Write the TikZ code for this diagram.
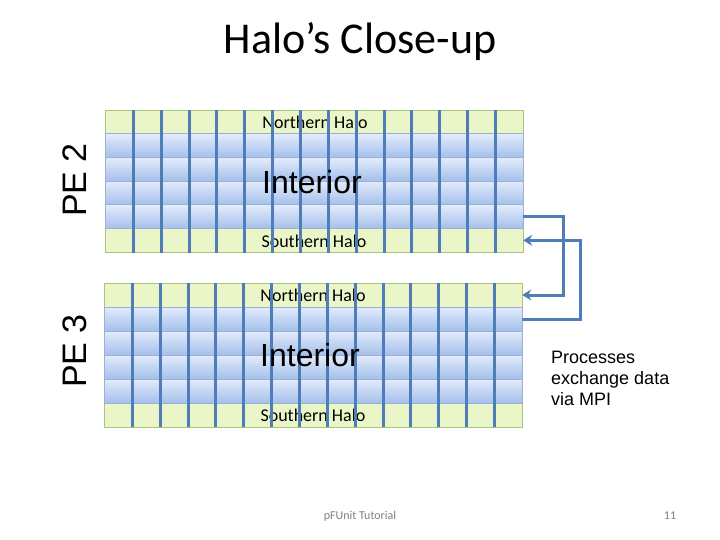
\documentclass[tikz,border=0pt]{standalone}
\usepackage{fontspec}
\setmainfont{Carlito}
\newfontfamily\arialfont{Liberation Sans}
\usetikzlibrary{arrows.meta}

\definecolor{halofill}{HTML}{EBF6C8}
\definecolor{haloedge}{HTML}{A9C47E}
\definecolor{inttop}{HTML}{E3ECFB}
\definecolor{intbot}{HTML}{A4BFEC}
\definecolor{intedge}{HTML}{9DB0D2}
\definecolor{mpiblue}{HTML}{4F7DB8}

\begin{document}
\begin{tikzpicture}[x=1pt, y=-1pt,
        halocell/.style={rectangle, draw=haloedge, fill=halofill, line width=0.8pt, minimum width=27.87pt, inner sep=0pt},
        intcell/.style={rectangle, draw=intedge, top color=inttop, bottom color=intbot, line width=0.6pt, minimum width=27.87pt, inner sep=0pt},
        rowbox/.style={rectangle, minimum width=418pt, inner sep=0pt},
        divider/.style={draw=mpiblue, line width=3pt},
        exchange/.style={draw=mpiblue, line width=3pt, -{Stealth[length=9pt,width=11pt]}},
        halolabel/.style={font=\fontsize{18}{18}\selectfont},
        intlabel/.style={font=\arialfont\fontsize{32}{32}\selectfont},
        pelabel/.style={rotate=90, font=\arialfont\fontsize{34}{34}\selectfont},
        footer/.style={anchor=base, text=black!50, font=\fontsize{12}{12}\selectfont}
    ]
        \useasboundingbox (0,0) rectangle (720,540);

        % Title
        \node[anchor=base, font=\fontsize{44}{44}\selectfont] (title) at (360,54) {Halo’s Close-up};

        % Grids of the two PEs
        \foreach \pe/\gl/\gt/\gh in {2/105/110/23.7, 3/104/283/24} {
            \foreach \r in {1,...,6}
                \node[rowbox, minimum height=\gh pt] (pe\pe-r\r) at ({\gl+209}, {\gt+(\r-0.5)*\gh}) {};
            \foreach \r in {1,6}
                \foreach \c in {1,...,15}
                    \node[halocell, minimum height=\gh pt] (pe\pe-\r-\c) at ({\gl+(\c-0.5)*27.87}, {\gt+(\r-0.5)*\gh}) {};
            \foreach \r in {2,...,5}
                \foreach \c in {1,...,15}
                    \node[intcell, minimum height=\gh pt] (pe\pe-\r-\c) at ({\gl+(\c-0.5)*27.87}, {\gt+(\r-0.5)*\gh}) {};
        }

        % Halo labels
        \node[halolabel] (pe2north) at (315,122) {Northern Halo};
        \node[halolabel] (pe2south) at (314,241) {Southern Halo};
        \node[halolabel] (pe3north) at (313,295) {Northern Halo};
        \node[halolabel] (pe3south) at (313,415) {Southern Halo};

        % Column dividers
        \foreach \pe in {2,3}
            \foreach \c in {1,...,14}
                \draw[divider] (pe\pe-1-\c.north east) -- (pe\pe-6-\c.south east);

        % Interior labels
        \node[intlabel] (pe2int) at (312,182) {Interior};
        \node[intlabel] (pe3int) at (310,355) {Interior};

        % PE labels
        \node[pelabel] (pe2label) at (75,180) {PE 2};
        \node[pelabel] (pe3label) at (75,351) {PE 3};

        % Halo exchange
        \draw[exchange] (pe2-r5.east) -- ++(40,0) |- (pe3-r1.east);
        \draw[exchange] (pe3-r2.east) -- ++(58,0) |- (pe2-r6.east);
        \node[anchor=north west, align=left, inner sep=0pt, font=\arialfont\fontsize{18}{21}\selectfont] (mpinote) at (551,351) {Processes\\exchange data\\via MPI};

        % Footer
        \node[footer] (tutorial) at (360,519) {pFUnit Tutorial};
        \node[footer] (pagenum) at (670,519) {11};
    \end{tikzpicture}
\end{document}
